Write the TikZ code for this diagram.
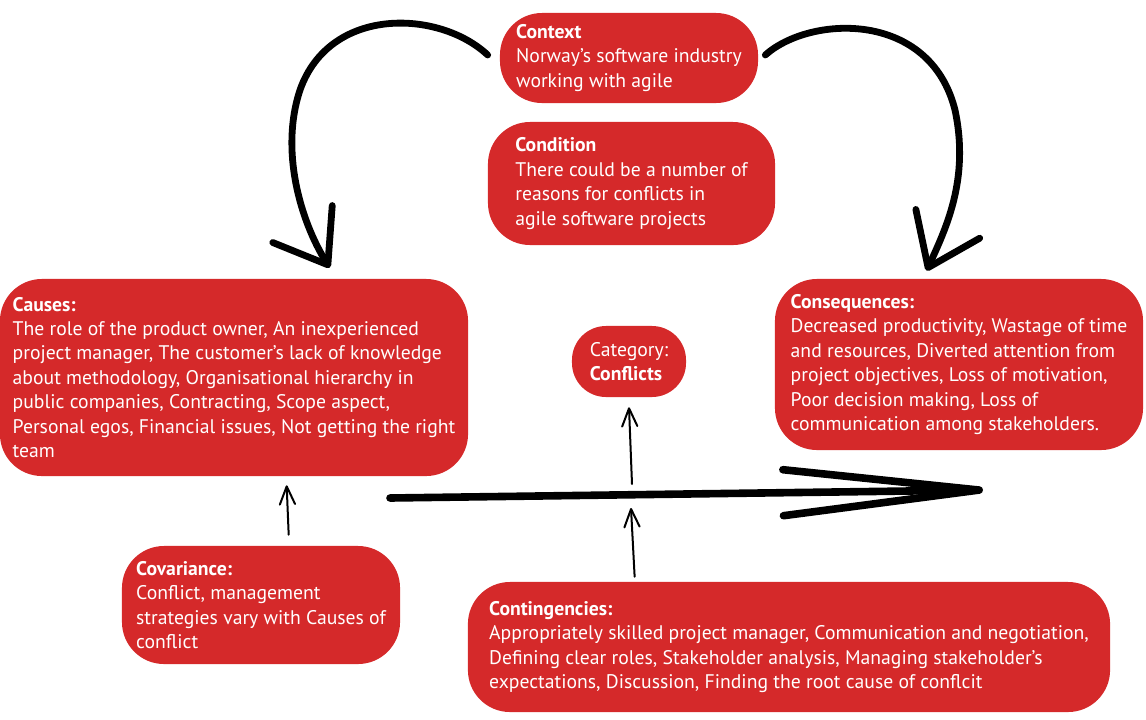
\documentclass[tikz,border=0pt]{standalone}
\usepackage{fontspec}
\setmainfont{PT Sans}
\usetikzlibrary{arrows.meta,calc}

\definecolor{boxred}{RGB}{213,41,42}
\tikzset{
  redbox/.style={fill=boxred, text=white, rounded corners=1.05cm, align=left,
    inner sep=0pt, font=\fontsize{14}{17.4}\selectfont},
  bigarrow/.style={line width=0.17cm, line cap=round,
    -{Straight Barb[round,length=1.2cm,width=1.75cm]}},
  thinarrow/.style={line width=0.05cm, line cap=round,
    -{Straight Barb[round,length=0.45cm,width=0.38cm]}}
}

\begin{document}
\begin{tikzpicture}[x=0.025cm, y=-0.025cm]
  \useasboundingbox (0,0) rectangle (1146,719);
  % boxes
  \node[redbox, minimum width=6.45cm, minimum height=2.25cm] (context) at (629,58)
    {\textbf{Context}\\Norway's software industry\\working with agile};
  \node[redbox, minimum width=7.175cm, minimum height=3.075cm] (condition) at (631.5,183.5)
    {\textbf{Condition}\\There could be a number of\\reasons for conflicts in\\agile software projects};
  \node[redbox, minimum width=11.7cm, minimum height=4.925cm] (causes) at (234,377.5)
    {\textbf{Causes:}\\The role of the product owner, An inexperienced\\project manager, The customer's lack of knowledge\\about methodology, Organisational hierarchy in\\public companies, Contracting, Scope aspect,\\Personal egos, Financial issues, Not getting the right\\team};
  \node[redbox, minimum width=9.2cm, minimum height=4.275cm] (consequences) at (959,364.5)
    {\textbf{Consequences:}\\Decreased productivity, Wastage of time\\and resources, Diverted attention from\\project objectives, Loss of motivation,\\Poor decision making, Loss of\\communication among stakeholders.};
  \node[redbox, rounded corners=0.85cm, minimum width=2.85cm, minimum height=1.775cm] (category) at (629,361.5)
    {Category:\\\textbf{Conflicts}};
  \node[redbox, minimum width=6.95cm, minimum height=2.95cm] (covariance) at (261,605)
    {\textbf{Covariance:}\\Conflict, management\\strategies vary with Causes of\\conflict};
  \node[redbox, minimum width=16.05cm, minimum height=3.25cm] (contingencies) at (789,647)
    {\textbf{Contingencies:}\\Appropriately skilled project manager, Communication and negotiation,\\Defining clear roles, Stakeholder analysis, Managing stakeholder's\\expectations, Discussion, Finding the root cause of conflcit};

  \coordinate (flowstart) at (390,498);
  \coordinate (flowend) at (983,490);
  \coordinate (catfoot) at (632,484);
  \coordinate (contip) at (631,508);

  % arrows
  \draw[bigarrow] ($(context.west)+(-12,-3)$) .. controls (440,10) and (330,5) .. (300,90)
    .. controls (280,150) and (300,220) .. ($(causes.north west)+(330,-11)$);
  \draw[bigarrow] ($(context.east)+(7,-3)$) .. controls (810,15) and (930,10) .. (955,110)
    .. controls (970,180) and (945,230) .. ($(consequences.north west)+(152,-8)$);
  \draw[bigarrow, line width=0.19cm, -{Straight Barb[round,length=4.9cm,width=1.15cm]}]
    (flowstart) -- (flowend);
  \draw[thinarrow] (catfoot) -- ($(category.south)+(0,10)$);
  \draw[thinarrow] ($(contingencies.north west)+(167,-5)$) -- (contip);
  \draw[thinarrow] ($(covariance.north west)+(167,-11)$) -- ($(causes.south west)+(287,9)$);
\end{tikzpicture}
\end{document}
